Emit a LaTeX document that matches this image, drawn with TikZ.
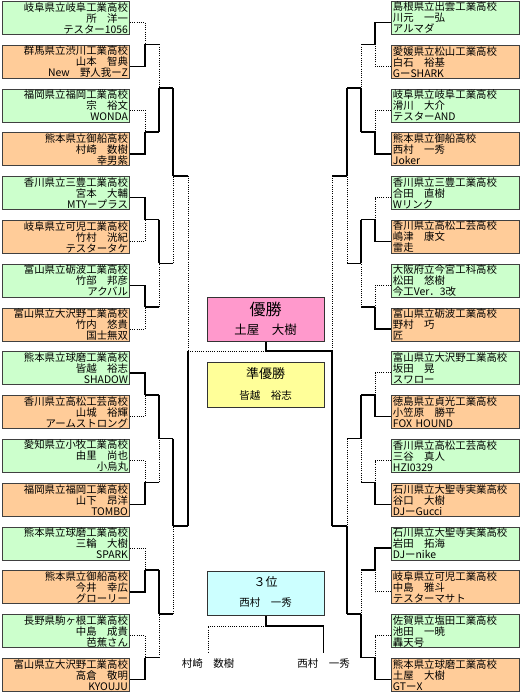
\documentclass[tikz,border=0pt]{standalone}
\usepackage{fontspec}
\setmainfont{Noto Sans CJK JP}
\usetikzlibrary{calc}
\definecolor{gfill}{HTML}{CCFFCC}
\definecolor{ofill}{HTML}{FFCC99}
\definecolor{pfill}{HTML}{FF99CC}
\definecolor{yfill}{HTML}{FFFF99}
\definecolor{cfill}{HTML}{CCFFFF}
\newcommand\firstrd[3]{\draw[#3] (#1) -| (#2);}
\newcommand\nextrd[3]{\draw[win] (#1) -- (#1 -| #2); \draw[#3] (#1 -| #2) -- (#2);}
\begin{document}
\begin{tikzpicture}[x=1pt,y=-1pt,
  entry/.style={draw=black!75, line width=0.9pt, minimum width=127.5pt, minimum height=33pt,
    inner xsep=1.5pt, inner ysep=0pt, text width=124.5pt, anchor=north west,
    font=\fontsize{10.4}{11}\selectfont},
  lentry/.style={entry, align=right},
  rentry/.style={entry, align=left},
  medal/.style={draw=black!80, line width=1pt, minimum width=117pt, anchor=north west},
  lbl/.style={inner sep=0pt},
  win/.style={line width=1.5pt, black},
  lose/.style={line width=0.9pt, black, dash pattern=on 1pt off 1.2pt}]
\useasboundingbox (0,0) rectangle (520,692);
\fill[white] (0,0) rectangle (520,692);

% left entries
\foreach \i/\c/\a/\b/\n in {
 0/gfill/岐阜県立岐阜工業高校/所　洋一/テスター1056,
 1/ofill/群馬県立渋川工業高校/山本　智典/New　野人我ーZ,
 2/gfill/福岡県立福岡工業高校/宗　裕文/WONDA,
 3/ofill/熊本県立御船高校/村崎　数樹/幸男紫,
 4/gfill/香川県立三豊工業高校/宮本　大輔/MTYープラス,
 5/ofill/岐阜県立可児工業高校/竹村　洸紀/テスタータケ,
 6/gfill/富山県立砺波工業高校/竹部　邦彦/アクバル,
 7/ofill/富山県立大沢野工業高校/竹内　悠貴/国士無双,
 8/gfill/熊本県立球磨工業高校/皆越　裕志/SHADOW,
 9/ofill/香川県立高松工芸高校/山城　裕輝/アームストロング,
 10/gfill/愛知県立小牧工業高校/由里　尚也/小烏丸,
 11/ofill/福岡県立福岡工業高校/山下　昂洋/TOMBO,
 12/gfill/熊本県立球磨工業高校/三輪　大樹/SPARK,
 13/ofill/熊本県立御船高校/今井　幸広/グローリー,
 14/gfill/長野県駒ヶ根工業高校/中島　成貴/芭蕉さん,
 15/ofill/富山県立大沢野工業高校/高倉　敬明/KYOUJU}{
  \node[lentry, fill=\c] (L\i) at (1.5,{1+43.8*\i}) {\a\\\b\\\n};
  \coordinate (Lo\i) at ($(L\i.north east)+(0,21.5)$);
}
% right entries
\foreach \i/\c/\a/\b/\n in {
 0/gfill/島根県立出雲工業高校/川元　一弘/アルマダ,
 1/ofill/愛媛県立松山工業高校/白石　裕基/GーSHARK,
 2/gfill/岐阜県立岐阜工業高校/滑川　大介/テスターAND,
 3/ofill/熊本県立御船高校/西村　一秀/Joker,
 4/gfill/香川県立三豊工業高校/合田　直樹/Wリンク,
 5/ofill/香川県立高松工芸高校/嶋津　康文/雷走,
 6/gfill/大阪府立今宮工科高校/松田　悠樹/今工Ver．3改,
 7/ofill/富山県立砺波工業高校/野村　巧/匠,
 8/gfill/富山県立大沢野工業高校/坂田　晃/スワロー,
 9/ofill/徳島県立貞光工業高校/小笠原　勝平/FOX HOUND,
 10/gfill/香川県立高松工芸高校/三谷　真人/HZI0329,
 11/ofill/石川県立大聖寺実業高校/谷口　大樹/DJーGucci,
 12/gfill/石川県立大聖寺実業高校/岩田　拓海/DJーnike,
 13/ofill/岐阜県立可児工業高校/中島　雅斗/テスターマサト,
 14/gfill/佐賀県立塩田工業高校/池田　一暁/轟天号,
 15/ofill/熊本県立球磨工業高校/土屋　大樹/GTーX}{
  \node[rentry, fill=\c] (R\i) at (391,{1+43.8*\i}) {\a\\\b\\\n};
  \coordinate (Ro\i) at ($(R\i.north west)+(0,21.5)$);
}

% merge points
\foreach \k in {0,...,7}{
  \coordinate (LA\k) at (145,{22.5+43.8*(2*\k+0.5)});
  \coordinate (RA\k) at (375,{22.5+43.8*(2*\k+0.5)});
}
\foreach \k in {0,...,3}{
  \coordinate (LB\k) at (159,{22.5+43.8*(4*\k+1.5)});
  \coordinate (RB\k) at (361,{22.5+43.8*(4*\k+1.5)});
}
\foreach \k in {0,1}{
  \coordinate (LC\k) at (173,{22.5+43.8*(8*\k+3.5)});
  \coordinate (RC\k) at (347,{22.5+43.8*(8*\k+3.5)});
}
\coordinate (LD) at (188,{22.5+43.8*7.5});
\coordinate (RD) at (332,{22.5+43.8*7.5});

% center boxes
\node[medal, fill=pfill, minimum height=44pt] (champ) at (207,297) {};
\node[lbl, font=\fontsize{16}{16}\selectfont] (champT) at (265.5,309) {優勝};
\node[lbl, font=\fontsize{12.5}{12.5}\selectfont] (champN) at (265.5,330) {土屋　大樹};
\node[medal, fill=yfill, minimum height=45pt] (second) at (207,362) {};
\node[lbl, font=\fontsize{13}{13}\selectfont] (secondT) at (265.5,374) {準優勝};
\node[lbl, font=\fontsize{10.5}{10.5}\selectfont] (secondN) at (265.5,396) {皆越　裕志};
\node[medal, fill=cfill, minimum height=44pt] (third) at (207,571) {};
\node[lbl, font=\fontsize{12}{12}\selectfont] (thirdT) at (265.5,582) {３位};
\node[lbl, font=\fontsize{10.5}{10.5}\selectfont] (thirdN) at (265.5,603) {西村　一秀};
\node[lbl, font=\fontsize{10.5}{10.5}\selectfont] (thA) at (208,664) {村崎　数樹};
\node[lbl, font=\fontsize{10.5}{10.5}\selectfont] (thB) at (323.5,664) {西村　一秀};

% ---- left bracket ----
\firstrd{Lo0}{LA0}{lose} \firstrd{Lo1}{LA0}{win}
\firstrd{Lo2}{LA1}{lose} \firstrd{Lo3}{LA1}{win}
\firstrd{Lo4}{LA2}{win}  \firstrd{Lo5}{LA2}{lose}
\firstrd{Lo6}{LA3}{win}  \firstrd{Lo7}{LA3}{lose}
\firstrd{Lo8}{LA4}{win}  \firstrd{Lo9}{LA4}{lose}
\firstrd{Lo10}{LA5}{lose} \firstrd{Lo11}{LA5}{win}
\firstrd{Lo12}{LA6}{lose} \firstrd{Lo13}{LA6}{win}
\firstrd{Lo14}{LA7}{lose} \firstrd{Lo15}{LA7}{win}
\nextrd{LA0}{LB0}{lose} \nextrd{LA1}{LB0}{win}
\nextrd{LA2}{LB1}{win}  \nextrd{LA3}{LB1}{lose}
\nextrd{LA4}{LB2}{win}  \nextrd{LA5}{LB2}{lose}
\nextrd{LA6}{LB3}{win}  \nextrd{LA7}{LB3}{lose}
\nextrd{LB0}{LC0}{win}  \nextrd{LB1}{LC0}{lose}
\nextrd{LB2}{LC1}{win}  \nextrd{LB3}{LC1}{lose}
\nextrd{LC0}{LD}{lose}  \nextrd{LC1}{LD}{win}

% ---- right bracket ----
\firstrd{Ro0}{RA0}{win}  \firstrd{Ro1}{RA0}{lose}
\firstrd{Ro2}{RA1}{lose} \firstrd{Ro3}{RA1}{win}
\firstrd{Ro4}{RA2}{lose} \firstrd{Ro5}{RA2}{win}
\firstrd{Ro6}{RA3}{lose} \firstrd{Ro7}{RA3}{win}
\firstrd{Ro8}{RA4}{lose} \firstrd{Ro9}{RA4}{win}
\firstrd{Ro10}{RA5}{lose} \firstrd{Ro11}{RA5}{win}
\firstrd{Ro12}{RA6}{win} \firstrd{Ro13}{RA6}{lose}
\firstrd{Ro14}{RA7}{lose} \firstrd{Ro15}{RA7}{win}
\nextrd{RA0}{RB0}{lose} \nextrd{RA1}{RB0}{win}
\nextrd{RA2}{RB1}{win}  \nextrd{RA3}{RB1}{lose}
\nextrd{RA4}{RB2}{win}  \nextrd{RA5}{RB2}{lose}
\nextrd{RA6}{RB3}{lose} \nextrd{RA7}{RB3}{win}
\nextrd{RB0}{RC0}{win}  \nextrd{RB1}{RC0}{lose}
\nextrd{RB2}{RC1}{lose} \nextrd{RB3}{RC1}{win}
\nextrd{RC0}{RD}{lose}  \nextrd{RC1}{RD}{win}

% ---- final ----
\coordinate (F) at (champ.south |- LD);
\draw[lose] (LD) -- (F);
\draw[win] (RD) -- (F) -- (champ.south);

% ---- third place ----
\coordinate (T) at ($(third.south)+(0,10)$);
\draw[win] (third.south) -- (T) -| ($(thB.north)+(0,-6)$);
\draw[lose] (T) -| ($(thA.north)+(0,-6)$);
\end{tikzpicture}
\end{document}
